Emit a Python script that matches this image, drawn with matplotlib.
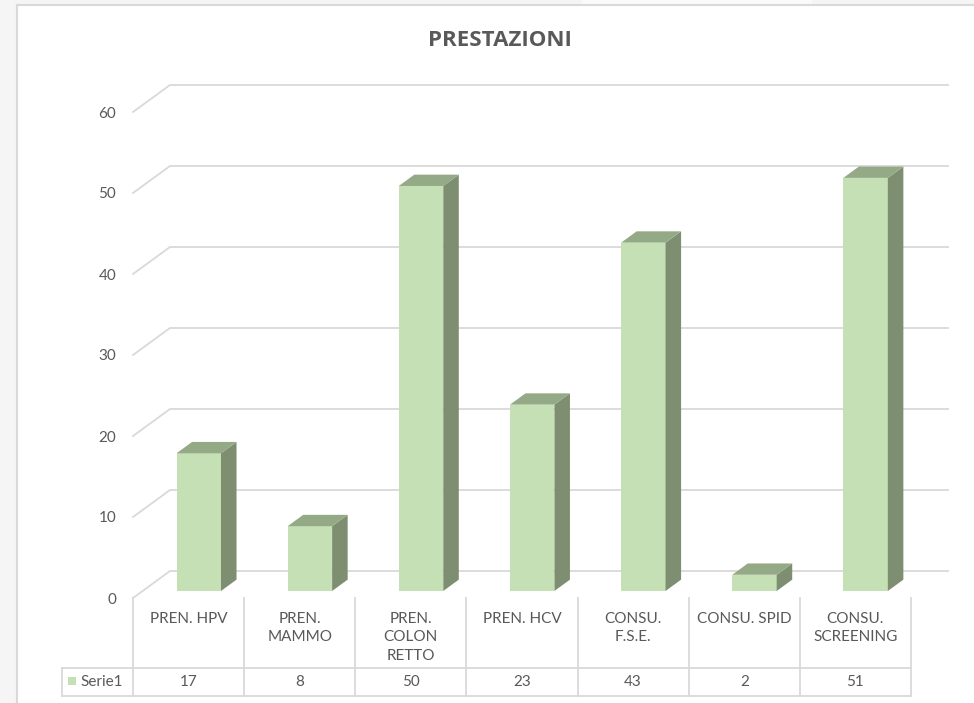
import numpy as np
import matplotlib.pyplot as plt
from matplotlib.patches import Polygon, Rectangle

categories = ['PREN. HPV', 'PREN.\nMAMMO', 'PREN.\nCOLON\nRETTO', 'PREN. HCV',
              'CONSU.\nF.S.E.', 'CONSU. SPID', 'CONSU.\nSCREENING']
values = [17, 8, 50, 23, 43, 2, 51]
yticks = [0, 10, 20, 30, 40, 50, 60]
series_name = 'Serie1'
title = 'PRESTAZIONI'

W, H = 974, 703
TXT = '#595959'
GRID = '#d9d9d9'
FRONT, SIDE, TOP = '#c5e0b4', '#7d8f70', '#94aa86'
FONT = 'Lato'
FS = 11

fig = plt.figure(figsize=(W / 100, H / 100), dpi=100)
fig.patch.set_facecolor('white')

# axes: front plane, x from 133px to 911px, y 0 at 598px and 60 at 112px
ax = fig.add_axes([133 / W, (H - 598) / H, 778 / W, 486 / H])
ax.set_xlim(-0.5, 6.5)
ax.set_ylim(0, 60)
ax.patch.set_visible(False)
for s in ax.spines.values():
    s.set_visible(False)
ax.set_xticks([])
ax.set_yticks(yticks)
ax.tick_params(axis='y', length=0, pad=12, labelcolor=TXT, labelsize=FS)
for lab in ax.get_yticklabels():
    lab.set_family(FONT)

px_cat = 778 / 7
px_val = 486 / 60
DX = 37 / px_cat   # depth of the floor in category units
DY = 27 / px_val   # depth of the floor in value units


def px2x(p):
    return -0.5 + (p - 133) / px_cat


def px2y(p):
    # pixel row -> axes fraction
    return (598 - p) / 486


# gridlines (side wall diagonal + back wall)
for v in yticks:
    ax.plot([-0.5, -0.5 + DX, 6.5 + DX], [v, v + DY, v + DY],
            color=GRID, lw=1.3, clip_on=False, zorder=1)

# 3d bars
f1 = 0.26
d = 0.42
bw = 0.4
for i, v in enumerate(values):
    x0 = i - bw / 2 + f1 * DX + 0.005
    y0 = f1 * DY
    ax.add_patch(Rectangle((x0, y0), bw, v, facecolor=FRONT, edgecolor='none',
                           zorder=3, clip_on=False))
    side = [(x0 + bw, y0), (x0 + bw + d * DX, y0 + d * DY),
            (x0 + bw + d * DX, y0 + v + d * DY), (x0 + bw, y0 + v)]
    ax.add_patch(Polygon(side, closed=True, facecolor=SIDE, edgecolor='none',
                         zorder=3, clip_on=False))
    top = [(x0, y0 + v), (x0 + bw, y0 + v),
           (x0 + bw + d * DX, y0 + v + d * DY), (x0 + d * DX, y0 + v + d * DY)]
    ax.add_patch(Polygon(top, closed=True, facecolor=TOP, edgecolor='none',
                         zorder=3, clip_on=False))

# data table
tr = ax.get_xaxis_transform()
xl = px2x(62)
for k in range(8):
    ax.plot([k - 0.5, k - 0.5], [px2y(598), px2y(696)], transform=tr,
            color=GRID, lw=1.3, clip_on=False)
for p in (668, 696):
    ax.plot([xl, 6.5], [px2y(p), px2y(p)], transform=tr,
            color=GRID, lw=1.3, clip_on=False)
ax.plot([xl, xl], [px2y(668), px2y(696)], transform=tr,
        color=GRID, lw=1.3, clip_on=False)

for i, (c, v) in enumerate(zip(categories, values)):
    ax.text(i, px2y(612), c, transform=tr, ha='center', va='top',
            color=TXT, fontsize=FS, family=FONT, linespacing=1.4)
    ax.text(i, px2y(682), str(v), transform=tr, ha='center', va='center',
            color=TXT, fontsize=FS, family=FONT)

ax.add_patch(Rectangle((px2x(68), px2y(685)), 8 / px_cat, 8 / 486,
                       transform=tr, facecolor=FRONT, edgecolor='none',
                       clip_on=False))
ax.text(px2x(80), px2y(682), series_name, transform=tr, ha='left',
        va='center', color=TXT, fontsize=FS, family=FONT)

# title
fig.text(500 / W, 1 - 40 / H, title, ha='center', va='center', fontsize=16,
         fontweight='bold', color=TXT, family='Open Sans')

# outer frame (chart area crop)
fig.add_artist(Rectangle((0, 0), 16 / W, 1, transform=fig.transFigure,
                         facecolor='#f4f5f4', edgecolor='none'))
fig.add_artist(Rectangle((0, 1 - 4 / H), 1, 4 / H, transform=fig.transFigure,
                         facecolor='#f4f5f4', edgecolor='none'))
fig.add_artist(Rectangle((582 / W, 1 - 4 / H), 230 / W, 4 / H,
                         transform=fig.transFigure, facecolor='#f9faf9',
                         edgecolor='none'))
fig.add_artist(plt.Line2D([17 / W, 1], [1 - 5 / H, 1 - 5 / H],
                          transform=fig.transFigure, color=GRID, lw=1.5))
fig.add_artist(plt.Line2D([17 / W, 17 / W], [0, 1 - 5 / H],
                          transform=fig.transFigure, color=GRID, lw=1.5))

fig.savefig('out.png', dpi=100)
